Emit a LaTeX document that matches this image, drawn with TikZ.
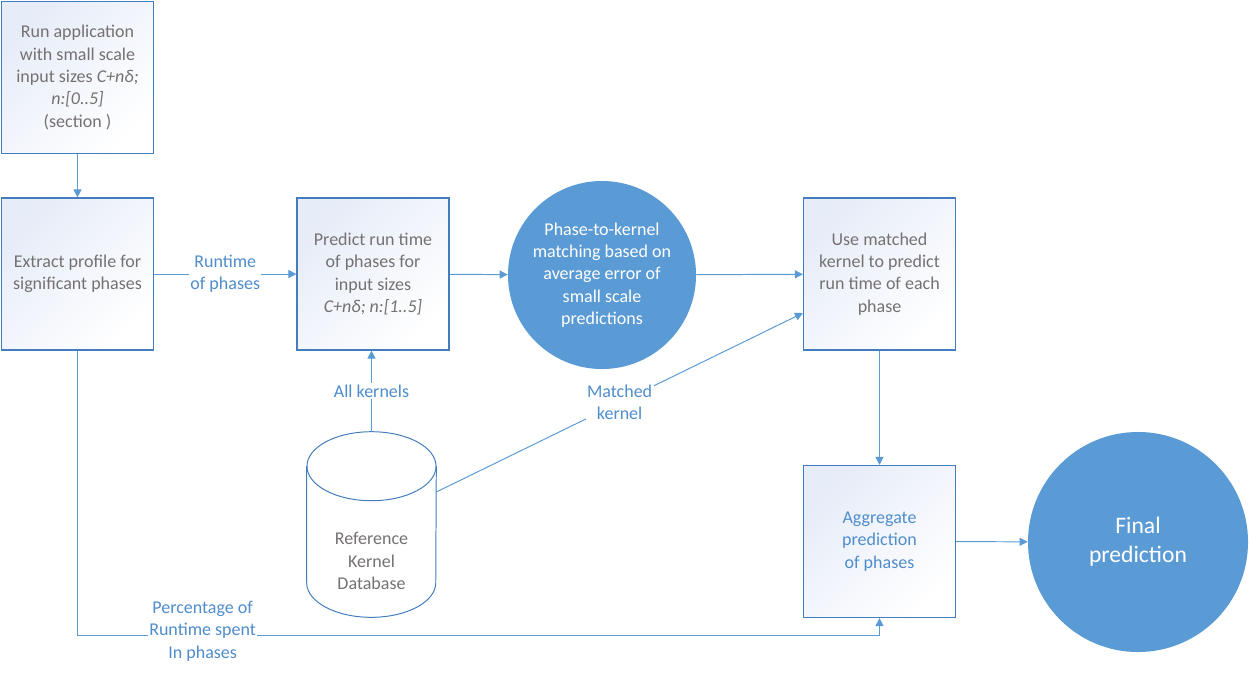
\documentclass[tikz,border=0pt]{standalone}
\usepackage{fontspec}
\setmainfont{Carlito}
\usetikzlibrary{positioning, arrows.meta, shapes.geometric}

\begin{document}
\begin{tikzpicture}[x=0.025cm, y=-0.025cm, >={Triangle[length=2mm,width=2mm]}]

% Define colors for shapes, lines and texts
\definecolor{flowblue}{RGB}{91,155,213}
\definecolor{edgeblue}{RGB}{68,125,190}
\definecolor{labelblue}{RGB}{79,141,204}
\definecolor{textgray}{RGB}{117,113,113}
\definecolor{shadeblue}{RGB}{230,236,248}

\tikzset{
  stepbox/.style={rectangle, draw=edgeblue, line width=0.8pt, top color=shadeblue, bottom color=white, shading angle=45, minimum width=3.8cm, minimum height=3.8cm, align=center, text=textgray, font=\fontsize{12.8}{15.9}\selectfont},
  bubble/.style={circle, fill=flowblue, text=white, align=center, inner sep=0pt, font=\fontsize{12.8}{15.9}\selectfont},
  link/.style={draw=flowblue, line width=0.7pt},
  linklabel/.style={fill=white, text=labelblue, align=center, inner sep=1pt, font=\fontsize{12.8}{15.9}\selectfont}
}

\useasboundingbox (0,0) rectangle (1253,687);

% Process boxes
\node[stepbox] (run) at (77.5,77.5) {Run application\\with small scale\\input sizes \textit{C+nδ;}\\\textit{n:[0..5]}\\(section )};
\node[stepbox] (extract) at (77.5,274) {Extract profile for\\significant phases};
\node[stepbox] (predict) at (373,274) {Predict run time\\of phases for\\input sizes\\\textit{C+nδ; n:[1..5]}};
\node[stepbox] (usekernel) at (879.5,274) {Use matched\\kernel to predict\\run time of each\\phase};
\node[stepbox, text=labelblue] (aggregate) at (879.5,541.5) {Aggregate\\prediction\\of phases};

% Circles
\node[bubble, minimum size=4.7cm] (match) at (602,275) {Phase-to-kernel\\matching based on\\average error of\\small scale\\predictions};
\node[bubble, minimum size=5.5cm, font=\fontsize{16.8}{20.6}\selectfont] (final) at (1138,542) {Final\\prediction};

% Kernel database cylinder
\node[minimum width=3.225cm, minimum height=4.625cm] (refdb) at (371.5,524.5) {};
\draw[draw=edgeblue, line width=0.7pt, fill=white] ([yshift=-0.8625cm]refdb.north west) -- ([yshift=0.8625cm]refdb.south west) arc[start angle=180, end angle=360, x radius=1.6125cm, y radius=0.8625cm] -- ([yshift=-0.8625cm]refdb.north east);
\draw[draw=edgeblue, line width=0.7pt] ([yshift=-0.8625cm]refdb.north) ellipse[x radius=1.6125cm, y radius=0.8625cm];
\node[align=center, text=textgray, font=\fontsize{12.8}{15.9}\selectfont] (dblabel) at (371.5,561) {Reference\\Kernel\\Database};

% Connectors
\draw[link,->] (run) -- (extract);
\draw[link,->] (extract) -- node[linklabel] {Runtime\\of phases} (predict);
\draw[link,->] (predict) -- (match);
\draw[link,->] (match) -- (usekernel);
\draw[link,->] (refdb.north) -- node[linklabel] {All kernels} (refdb.north |- predict.south);
\draw[link,->] ([yshift=0.8125cm]refdb.east) -- node[linklabel] {Matched\\kernel} ([yshift=-0.975cm]usekernel.west);
\draw[link,->] (usekernel) -- (aggregate);
\draw[link,->] (aggregate) -- (final);
\draw[link,->] (extract.south) |- node[linklabel, pos=0.578, yshift=0.1cm] {Percentage of\\Runtime spent\\In phases} ([yshift=-0.425cm]aggregate.south) -- (aggregate.south);

\end{tikzpicture}
\end{document}
